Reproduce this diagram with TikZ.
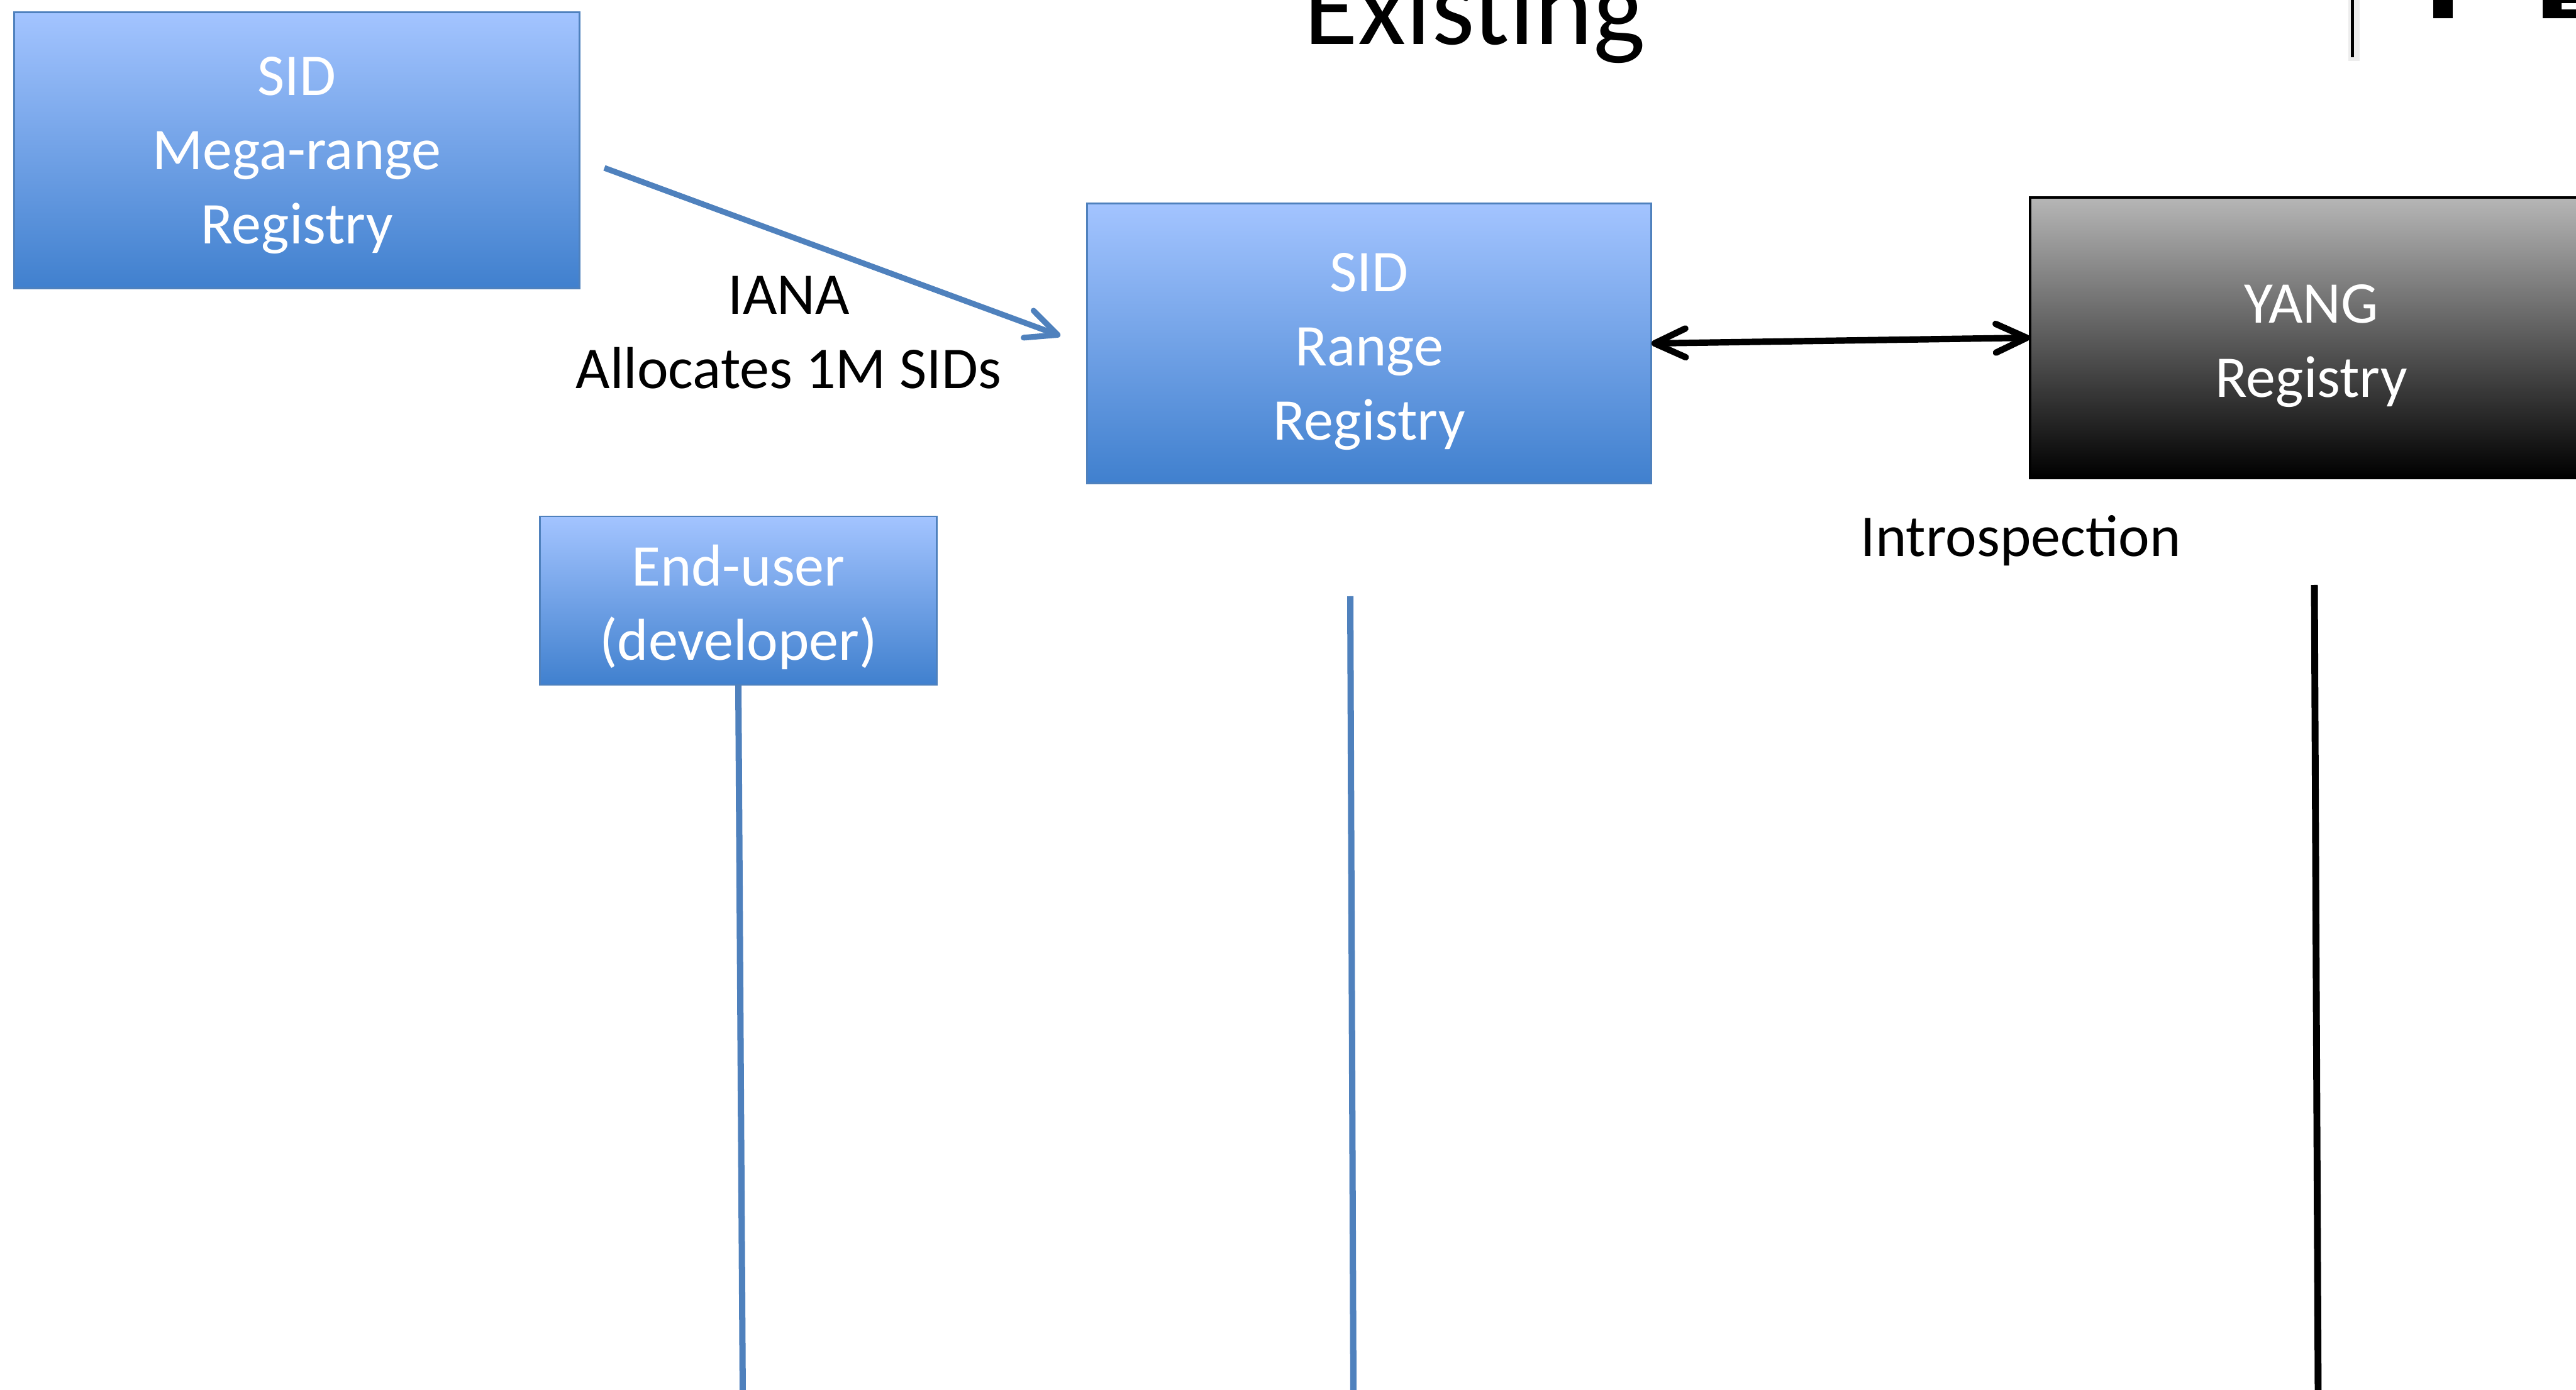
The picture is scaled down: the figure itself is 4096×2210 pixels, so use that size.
\documentclass[tikz,border=0pt]{standalone}
\usepackage{fontspec}
\setmainfont{Carlito}
\usetikzlibrary{arrows.meta}
\definecolor{boxtop}{RGB}{163,196,255}
\definecolor{boxbot}{RGB}{64,128,206}
\definecolor{boxedge}{RGB}{79,129,189}
\definecolor{linkblue}{RGB}{79,129,189}
\definecolor{greytop}{RGB}{182,182,182}
\begin{document}
\begin{tikzpicture}[x=0.01cm,y=-0.01cm,
  every node/.style={font=\fontsize{26.75pt}{33.6pt}\selectfont},
  bluebox/.style={draw=boxedge, line width=0.8pt, top color=boxtop, bottom color=boxbot,
    inner sep=0pt, outer sep=0pt},
  blackbox/.style={draw=black, line width=1.1pt, top color=greytop, bottom color=black,
    inner sep=0pt, outer sep=0pt},
  boxtext/.style={text=white, align=center, inner sep=0pt},
  plain/.style={text=black, align=center, inner sep=0pt},
  barbtip/.tip={Straight Barb[length=14pt,width=13pt,line cap=round,line join=round]},
  bluelink/.style={draw=linkblue, line width=2.6pt},
  blacklink/.style={draw=black, line width=2.9pt},
]
\useasboundingbox (0,0) rectangle (4096,2210);
\clip (0,0) rectangle (4096,2210);

% title fragments at the top
\node[plain, font=\fontsize{50pt}{60pt}\selectfont, anchor=base] (title) at (2345,71) {Existing};
\draw[line width=5pt, black!7] (3743,-5) -- (3743,97);
\draw[line width=1.4pt] (3740,-5) -- (3740,91);
\fill (3869,-5) rectangle (3900,29);
\fill (4043,-5) -- (4100,-5) -- (4100,5) -- (4073,5) -- (4073,15) -- (4100,15) -- (4100,29) -- (4043,29) -- cycle;

% boxes
\node[bluebox, minimum width=8.98cm, minimum height=4.38cm] (mega) at (472,239) {};
\node[boxtext] (megaT) at ([yshift=-0.08cm]mega.center) {SID\\Mega-range\\Registry};
\node[bluebox, minimum width=8.97cm, minimum height=4.44cm] (range) at (2177,546) {};
\node[boxtext] (rangeT) at ([yshift=-0.13cm]range.center) {SID\\Range\\Registry};
\node[blackbox, minimum width=8.94cm, minimum height=4.45cm] (yang) at (3675,537) {};
\node[boxtext] (yangT) at ([yshift=-0.13cm]yang.center) {YANG\\Registry};
\node[bluebox, minimum width=6.30cm, minimum height=2.68cm] (enduser) at (1174,955) {};
\node[boxtext] (enduserT) at ([yshift=-0.10cm]enduser.center) {End-user\\(developer)};

% labels
\node[plain, anchor=base] (iana) at (1254,500) {IANA};
\node[plain, anchor=base] (alloc) at (1254,618) {Allocates 1M SIDs};
\node[plain, anchor=base] (intro) at (3213,885) {Introspection};

% connectors
\coordinate (ianaS) at (961,267);
\coordinate (ianaE) at (1686,534);
\draw[bluelink, -barbtip] (ianaS) -- (ianaE);
\draw[blacklink, barbtip-barbtip] (range.east) -- (yang.west);

\coordinate (euEnd) at (1181,2220);
\draw[bluelink, line width=2.85pt] (enduser.south) -- (euEnd);
\coordinate (rangeTop) at (2147,948);
\coordinate (rangeEnd) at (2152,2220);
\draw[bluelink, line width=2.85pt] (rangeTop) -- (rangeEnd);
\coordinate (yangTop) at (3680,930);
\coordinate (yangEnd) at (3686,2220);
\draw[blacklink, line width=3.1pt] (yangTop) -- (yangEnd);
\end{tikzpicture}
\end{document}
